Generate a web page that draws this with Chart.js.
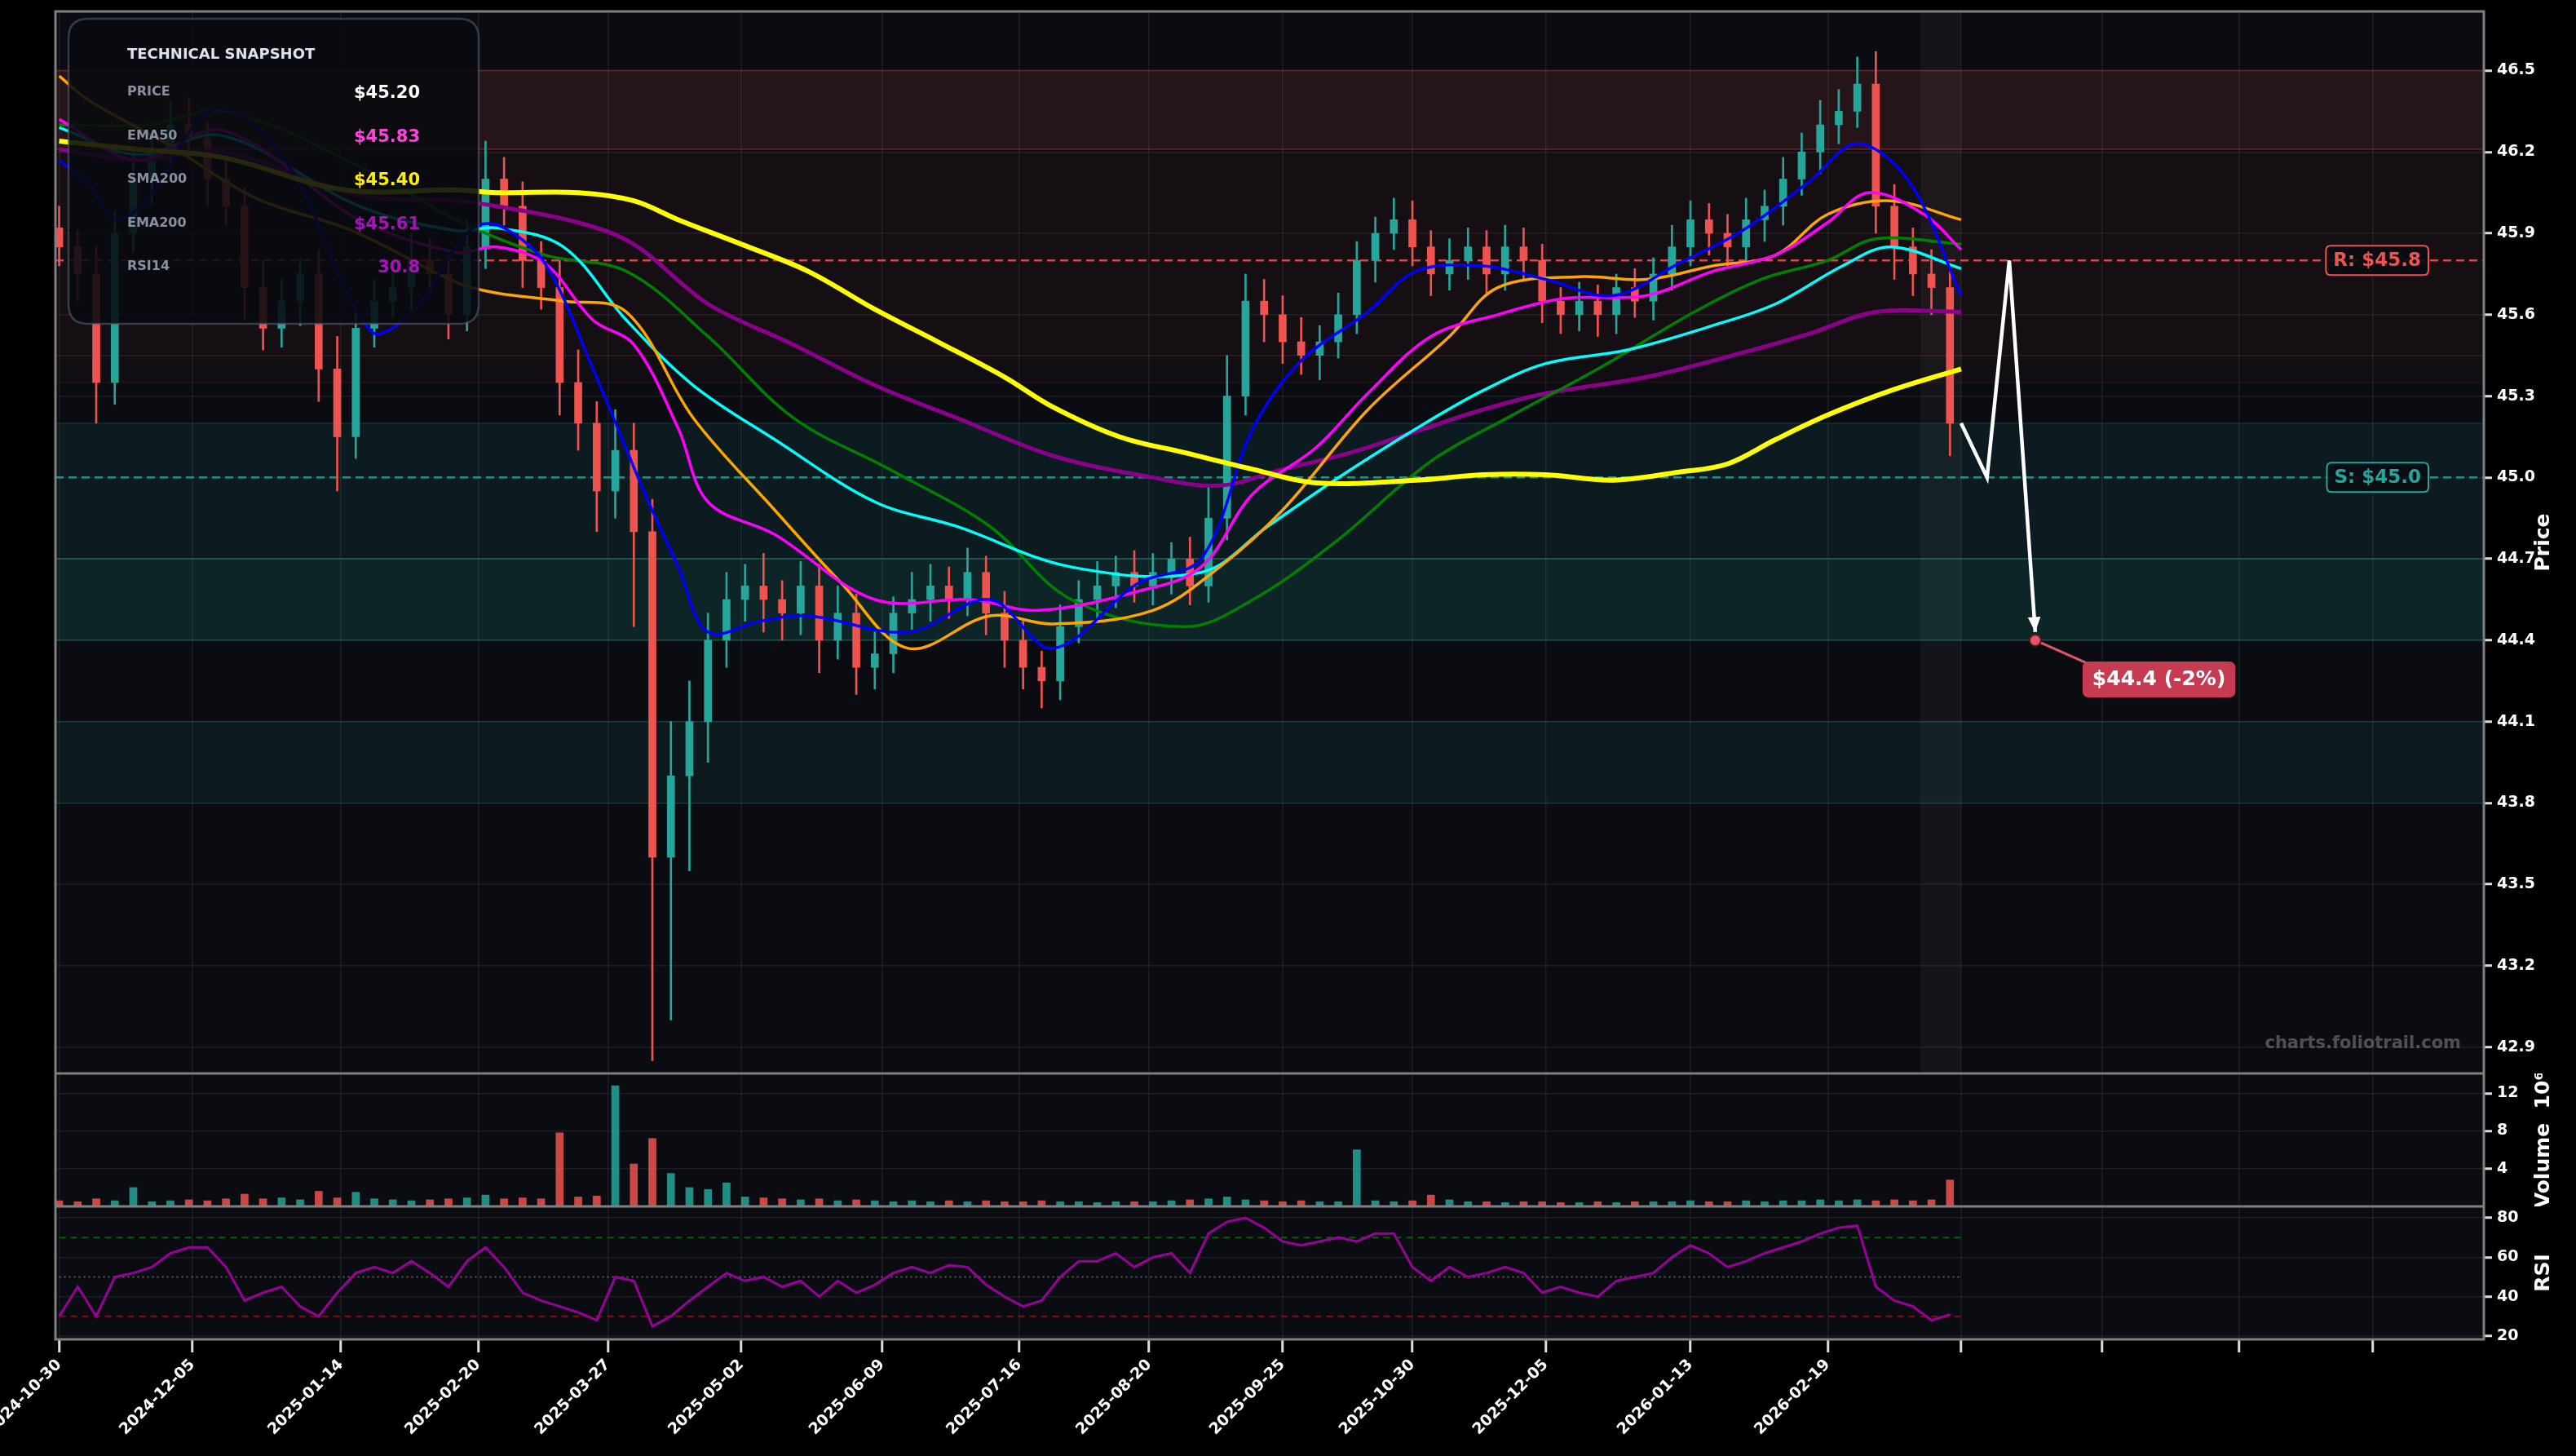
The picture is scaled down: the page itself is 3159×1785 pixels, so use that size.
<!DOCTYPE html>
<html><head><meta charset="utf-8">
<script src="https://cdn.jsdelivr.net/npm/chart.js@4.4.1/dist/chart.umd.min.js"></script>
<style>body{margin:0;background:#000;width:3159px;height:1785px;overflow:hidden;position:relative}canvas{position:absolute;left:0}</style>
</head><body>
<canvas id="cp" width="3159" height="1316" style="top:0"></canvas>
<canvas id="cv" width="3159" height="163" style="top:1316px"></canvas>
<canvas id="cr" width="3159" height="306" style="top:1479px"></canvas>
<script>
// ---------- DATA ----------
const tickDays   = [0,36,76,113,148,184,222,259,294,330,365,401,440,477,513,551,588,624];
const tickLabels = ['2024-10-30','2024-12-05','2025-01-14','2025-02-20','2025-03-27','2025-05-02','2025-06-09','2025-07-16','2025-08-20','2025-09-25','2025-10-30','2025-12-05','2026-01-13','2026-02-19'];
const closes = [45.85,45.75,45.35,45.9,46.1,46.2,46.3,46.25,46.1,46.0,
 45.7,45.55,45.65,45.75,45.4,45.15,45.55,45.65,45.7,45.8,
 45.75,45.6,45.85,46.1,46.0,45.8,45.7,45.35,45.2,44.95,
 45.1,44.8,43.6,43.9,44.1,44.4,44.55,44.6,44.55,44.5,
 44.6,44.4,44.5,44.3,44.35,44.5,44.55,44.6,44.55,44.65,
 44.5,44.4,44.3,44.25,44.45,44.55,44.6,44.65,44.6,44.65,
 44.7,44.6,44.85,45.3,45.65,45.6,45.5,45.45,45.5,45.6,
 45.8,45.9,45.95,45.85,45.75,45.8,45.85,45.75,45.85,45.8,
 45.65,45.6,45.65,45.6,45.7,45.65,45.75,45.85,45.95,45.9,
 45.85,45.95,46.0,46.1,46.2,46.3,46.35,46.45,46.0,45.85,
 45.75,45.7,45.2];
const firstOpen = 45.92;
const wickUp = [0.08,0.06,0.1,0.08,0.12,0.07,0.09,0.1,0.06,0.08,
 0.07,0.1,0.08,0.06,0.09,0.12,0.07,0.08,0.06,0.1,
 0.08,0.07,0.1,0.14,0.08,0.09,0.07,0.1,0.12,0.08,
 0.15,0.1,0.12,0.2,0.15,0.1,0.1,0.08,0.12,0.07,
 0.09,0.08,0.1,0.07,0.08,0.06,0.1,0.08,0.07,0.09,
 0.06,0.08,0.07,0.06,0.08,0.07,0.09,0.06,0.08,0.07,
 0.06,0.08,0.12,0.15,0.1,0.08,0.07,0.09,0.06,0.08,
 0.07,0.06,0.08,0.07,0.06,0.08,0.07,0.06,0.08,0.07,
 0.06,0.05,0.07,0.06,0.05,0.07,0.06,0.08,0.07,0.06,
 0.07,0.08,0.06,0.08,0.07,0.09,0.08,0.1,0.12,0.08,
 0.07,0.09,0.06];
const wickDn = [0.07,0.1,0.15,0.08,0.07,0.09,0.06,0.08,0.1,0.07,
 0.12,0.08,0.07,0.09,0.12,0.2,0.08,0.07,0.06,0.08,
 0.07,0.09,0.06,0.08,0.07,0.1,0.08,0.12,0.1,0.15,
 0.1,0.35,0.75,0.6,0.35,0.15,0.1,0.08,0.12,0.1,
 0.08,0.12,0.07,0.1,0.08,0.07,0.06,0.08,0.07,0.06,
 0.08,0.1,0.08,0.1,0.07,0.06,0.07,0.08,0.06,0.07,
 0.08,0.07,0.06,0.08,0.07,0.1,0.08,0.07,0.09,0.06,
 0.07,0.08,0.06,0.07,0.08,0.06,0.07,0.08,0.06,0.07,
 0.08,0.07,0.06,0.08,0.07,0.06,0.07,0.06,0.07,0.08,
 0.07,0.06,0.08,0.07,0.06,0.08,0.07,0.06,0.1,0.12,
 0.08,0.1,0.12];
const volumes = [0.6,0.5,0.8,0.6,2.0,0.5,0.6,0.7,0.6,0.8,
 1.3,0.8,0.9,0.7,1.6,0.9,1.5,0.8,0.7,0.6,
 0.7,0.8,0.9,1.2,0.8,0.9,0.8,7.8,1.0,1.1,
 12.8,4.5,7.2,3.5,2.0,1.8,2.5,1.0,0.9,0.8,
 0.7,0.8,0.6,0.7,0.6,0.5,0.6,0.5,0.6,0.5,
 0.6,0.5,0.5,0.6,0.5,0.5,0.4,0.5,0.5,0.5,
 0.6,0.7,0.8,1.0,0.7,0.6,0.5,0.6,0.5,0.5,
 6.0,0.6,0.5,0.6,1.2,0.7,0.5,0.5,0.4,0.5,
 0.5,0.4,0.4,0.5,0.4,0.5,0.5,0.5,0.6,0.5,
 0.5,0.6,0.5,0.6,0.6,0.7,0.6,0.7,0.6,0.7,
 0.6,0.7,2.8];
const rsiValues = [30,45,30,50,52,55,62,65,65,55,
 38,42,45,35,30,42,52,55,52,58,
 52,45,58,65,55,42,38,35,32,28,
 50,48,25,30,38,45,52,48,50,45,
 48,40,48,42,46,52,55,52,56,55,
 46,40,35,38,50,58,58,62,55,60,
 62,52,72,78,80,75,68,66,68,70,
 68,72,72,55,48,55,50,52,55,52,
 42,45,42,40,48,50,52,60,66,62,
 55,58,62,65,68,72,75,76,45,38,
 35,28,31];
const candleDays = closes.map((_,i)=>i*5);

const sma200Days=[0,21,44,77,107,118,140,155,167,184,202,220,237,255,268,286,304,322,339,366,384,401,419,437,450,463,477,494,513];
const sma200Vals=[46.24,46.21,46.18,46.06,46.06,46.05,46.05,46.02,45.95,45.86,45.76,45.62,45.50,45.37,45.26,45.15,45.09,45.03,44.98,44.99,45.01,45.01,44.99,45.02,45.05,45.14,45.23,45.32,45.40];
const ema200Days=[0,21,44,81,107,118,140,155,175,198,220,242,268,295,313,330,348,366,384,401,428,454,472,490,513];
const ema200Vals=[46.21,46.17,46.20,46.04,46.02,46.0,45.94,45.86,45.64,45.49,45.34,45.22,45.08,45.0,44.97,45.03,45.09,45.17,45.25,45.31,45.37,45.46,45.53,45.61,45.61];
const ema50Days=[0,21,44,81,107,118,131,144,155,167,175,193,220,246,264,291,308,322,339,353,370,388,406,428,446,463,477,488,503,513];
const ema50Vals=[46.32,46.17,46.28,45.95,45.83,45.85,45.79,45.58,45.49,45.18,44.91,44.79,44.55,44.55,44.51,44.58,44.67,44.94,45.11,45.31,45.52,45.60,45.66,45.67,45.76,45.82,45.94,46.05,45.97,45.84];
const cyanDays=[0,21,44,81,107,118,136,153,171,193,220,242,273,308,326,344,366,384,401,423,446,463,481,494,513];
const cyanVals=[46.29,46.19,46.26,46.0,45.91,45.92,45.85,45.58,45.34,45.14,44.91,44.82,44.67,44.65,44.82,44.99,45.18,45.32,45.42,45.47,45.56,45.64,45.78,45.85,45.77];
const greenDays=[0,24,45,85,107,131,153,175,198,224,251,273,304,322,344,370,392,415,441,459,477,490,513];
const greenVals=[46.30,46.30,46.35,46.12,45.95,45.82,45.76,45.52,45.22,45.03,44.82,44.55,44.45,44.55,44.76,45.06,45.23,45.40,45.61,45.73,45.80,45.88,45.86];
const orangeDays=[0,8,29,53,79,107,118,136,153,171,193,211,229,251,268,295,313,330,353,375,388,410,428,446,463,477,494,513];
const orangeVals=[46.48,46.39,46.23,46.03,45.91,45.72,45.68,45.65,45.61,45.22,44.88,44.61,44.37,44.49,44.46,44.51,44.67,44.88,45.25,45.52,45.70,45.74,45.73,45.78,45.82,45.97,46.02,45.95];
const blueDays=[0,8,15.5,24,42,61,84,96,107,113,120,131,144,158,167,175,189,202,229,251,268,291,308,322,335,353,366,384,401,419,437,454,472,485,499,513];
const blueVals=[46.17,46.08,45.95,46.03,46.36,46.17,45.54,45.62,45.85,45.93,45.92,45.79,45.40,44.94,44.67,44.43,44.47,44.49,44.43,44.55,44.37,44.61,44.70,45.18,45.43,45.61,45.76,45.78,45.73,45.67,45.79,45.91,46.09,46.23,46.09,45.67];
const forecastDays=[513,520,526,533];
const forecastVals=[45.20,45.00,45.80,44.43];
const targetDay=533, targetPrice=44.40, targetText='$44.4 (-2%)';
const resistance=45.8, support=45.0;
const zoneLevels=[[46.21,46.5,'r1'],[45.45,46.21,'r2'],[45.35,45.45,'r3'],[44.7,45.2,'g1'],[44.4,44.7,'g2'],[43.8,44.1,'g3']];
const recentRange=[502,513];
const priceTicks=[42.9,43.2,43.5,43.8,44.1,44.4,44.7,45.0,45.3,45.6,45.9,46.2,46.5];
const volTicks=[4,8,12];
const rsiTicks=[20,40,60,80];
const rsiLevels=[70,50,30];
const snapLabels=['PRICE','EMA50','SMA200','EMA200','RSI14'];
const snapValues=['$45.20','$45.83','$45.40','$45.61','30.8'];

// ---------- STYLE ----------
const FONT='DejaVu Sans';
const PL=68, AXW=113, XMIN=-1, XMAX=654;
const UP='#26a69a', DN='#ef5350';
const zoneFill={r1:'rgba(239,83,80,0.12)',r2:'rgba(239,83,80,0.05)',r3:'rgba(239,83,80,0.03)',g1:'rgba(38,166,154,0.10)',g2:'rgba(38,166,154,0.16)',g3:'rgba(38,166,154,0.09)'};
const zoneStroke={r1:'rgba(239,83,80,0.25)',r2:'rgba(239,83,80,0.12)',r3:'rgba(239,83,80,0.1)',g1:'rgba(38,166,154,0.2)',g2:'rgba(38,166,154,0.3)',g3:'rgba(38,166,154,0.2)'};
const snapColors=['#ffffff','#ff44dd','#ffee00','#aa11bb','#aa11bb'];

const opens = closes.map((c,i)=> i===0 ? firstOpen : closes[i-1]);
const cColors = closes.map((c,i)=> c>=opens[i] ? UP : DN);

function xScale(show,h){
  return {type:'linear',min:XMIN,max:XMAX,offset:false,
    afterBuildTicks:s=>{s.ticks=tickDays.map(v=>({value:v}));},
    afterFit:s=>{s.height=h;s.paddingLeft=0;s.paddingRight=0;},
    grid:{offset:false,color:'rgba(255,255,255,0.07)',lineWidth:1.5,drawTicks:show,tickLength:16,tickColor:'#ddd',tickWidth:3},
    border:{display:false},
    ticks:{display:show,color:'#fff',font:{family:FONT,weight:'bold',size:19},maxRotation:45,minRotation:45,autoSkip:false,padding:4,
      callback:v=>{const i=tickDays.indexOf(v);return i>=0&&i<tickLabels.length?tickLabels[i]:'';}}};
}
function yScale(min,max,ticks,fmt){
  return {position:'right',min,max,
    afterBuildTicks:s=>{s.ticks=ticks.map(v=>({value:v}));},
    afterFit:s=>{s.width=AXW;s.paddingTop=0;s.paddingBottom=0;},
    grid:{color:'rgba(255,255,255,0.07)',lineWidth:1.5,tickLength:10,tickColor:'#ddd',tickWidth:3},
    border:{display:false},
    ticks:{color:'#fff',font:{family:FONT,weight:'bold',size:19},padding:6,callback:fmt}};
}
function framePlugin(title){
  return {id:'frame',
    beforeDraw(c){const {ctx,chartArea:a}=c;ctx.save();ctx.fillStyle='#0a0c11';ctx.fillRect(a.left,a.top,a.right-a.left,a.bottom-a.top);ctx.restore();},
    afterDraw(c){const {ctx,chartArea:a}=c;ctx.save();ctx.strokeStyle='#808080';ctx.lineWidth=3;ctx.strokeRect(a.left,a.top,a.right-a.left,a.bottom-a.top);
      ctx.translate(3119,(a.top+a.bottom)/2);ctx.rotate(-Math.PI/2);ctx.fillStyle='#fff';ctx.font='bold 25px '+FONT;ctx.textAlign='center';ctx.textBaseline='middle';ctx.fillText(title,0,0);ctx.restore();}};
}
function line(days,vals,color,w){return {type:'line',data:days.map((d,i)=>({x:d,y:vals[i]})),borderColor:color,borderWidth:w,pointRadius:0,tension:0.35,fill:false};}
function rrect(ctx,x,y,w,h,r){ctx.beginPath();ctx.moveTo(x+r,y);ctx.lineTo(x+w-r,y);ctx.quadraticCurveTo(x+w,y,x+w,y+r);ctx.lineTo(x+w,y+h-r);ctx.quadraticCurveTo(x+w,y+h,x+w-r,y+h);ctx.lineTo(x+r,y+h);ctx.quadraticCurveTo(x,y+h,x,y+h-r);ctx.lineTo(x,y+r);ctx.quadraticCurveTo(x,y,x+r,y);ctx.closePath();}

const overlay={id:'ov',
  beforeDatasetsDraw(c){const {ctx,chartArea:a,scales:{x,y}}=c;ctx.save();
    ctx.beginPath();ctx.rect(a.left,a.top,a.right-a.left,a.bottom-a.top);ctx.clip();
    zoneLevels.forEach(z=>{const t=y.getPixelForValue(z[1]),b=y.getPixelForValue(z[0]);ctx.fillStyle=zoneFill[z[2]];ctx.fillRect(a.left,t,a.right-a.left,b-t);ctx.strokeStyle=zoneStroke[z[2]];ctx.lineWidth=1.5;ctx.strokeRect(a.left,t,a.right-a.left,b-t);});
    const s0=x.getPixelForValue(recentRange[0]),s1=x.getPixelForValue(recentRange[1]);
    ctx.fillStyle='rgba(255,255,255,0.04)';ctx.fillRect(s0,a.top,s1-s0,a.bottom-a.top);
    ctx.setLineDash([10,6]);ctx.lineWidth=2.5;
    [[resistance,'rgba(239,83,80,0.85)'],[support,'rgba(38,166,154,0.85)']].forEach(([v,col])=>{const py=y.getPixelForValue(v);ctx.strokeStyle=col;ctx.beginPath();ctx.moveTo(a.left,py);ctx.lineTo(a.right,py);ctx.stroke();});
    ctx.restore();},
  afterDatasetsDraw(c){const {ctx,chartArea:a,scales:{x,y}}=c;ctx.save();
    const n=forecastDays.length;const x1=x.getPixelForValue(forecastDays[n-1]),y1=y.getPixelForValue(forecastVals[n-1]);
    const x0=x.getPixelForValue(forecastDays[n-2]),y0=y.getPixelForValue(forecastVals[n-2]);
    const ang=Math.atan2(y1-y0,x1-x0);ctx.fillStyle='#fff';ctx.beginPath();ctx.moveTo(x1,y1);
    ctx.lineTo(x1-20*Math.cos(ang-0.4),y1-20*Math.sin(ang-0.4));ctx.lineTo(x1-20*Math.cos(ang+0.4),y1-20*Math.sin(ang+0.4));ctx.closePath();ctx.fill();
    const tx=x.getPixelForValue(targetDay),ty=y.getPixelForValue(targetPrice);
    ctx.font='bold 25px '+FONT;const tw=ctx.measureText(targetText).width;
    const bx=tx+58,by=ty+26,bw=tw+24,bh=44;
    ctx.strokeStyle='#e0566a';ctx.lineWidth=3;ctx.beginPath();ctx.moveTo(tx,ty);ctx.lineTo(bx+14,by+6);ctx.stroke();
    ctx.fillStyle='#c63a52';rrect(ctx,bx,by,bw,bh,8);ctx.fill();
    ctx.fillStyle='#fff';ctx.textBaseline='middle';ctx.textAlign='left';ctx.fillText(targetText,bx+12,by+bh/2+1);
    ctx.beginPath();ctx.arc(tx,ty,7,0,Math.PI*2);ctx.fillStyle='#e0566a';ctx.fill();ctx.strokeStyle='#5a1520';ctx.lineWidth=2;ctx.stroke();
    ctx.font='bold 23px '+FONT;
    [['R: $'+resistance.toFixed(1),resistance,DN],['S: $'+support.toFixed(1),support,UP]].forEach(([t,v,col])=>{
      const w=ctx.measureText(t).width+18,h=36,rx=a.right-68-w,ry=y.getPixelForValue(v)-h/2;
      ctx.fillStyle='rgba(10,12,17,0.9)';rrect(ctx,rx,ry,w,h,6);ctx.fill();ctx.strokeStyle=col;ctx.lineWidth=2;ctx.stroke();
      ctx.fillStyle=col;ctx.textAlign='left';ctx.fillText(t,rx+9,ry+h/2+1);});
    ctx.font='bold 21px '+FONT;ctx.fillStyle='rgba(255,255,255,0.28)';ctx.textAlign='right';ctx.fillText('charts.foliotrail.com',a.right-28,1280);
    ctx.fillStyle='rgba(8,10,15,0.88)';rrect(ctx,84,23,503,374,24);ctx.fill();ctx.strokeStyle='rgba(90,100,120,0.55)';ctx.lineWidth=2.5;ctx.stroke();
    ctx.textAlign='left';ctx.fillStyle='#dde2ec';ctx.font='bold 18px '+FONT;ctx.fillText('TECHNICAL SNAPSHOT',156,67);
    snapLabels.forEach((l,i)=>{const yy=113+i*53.5;ctx.font='bold 16px '+FONT;ctx.fillStyle='#8a90a0';ctx.textAlign='left';ctx.fillText(l,156,yy);
      ctx.font='bold 21px '+FONT;ctx.fillStyle=snapColors[i];ctx.textAlign='right';ctx.fillText(snapValues[i],515,yy+2);});
    ctx.restore();}};

Chart.defaults.animation=false;
Chart.defaults.devicePixelRatio=1;
const common={responsive:false,animation:false,plugins:{legend:{display:false},tooltip:{enabled:false}}};

new Chart(document.getElementById('cp'),{type:'bar',
  data:{datasets:[
    {data:closes.map((c,i)=>({x:candleDays[i],y:[Math.min(opens[i],c)-wickDn[i],Math.max(opens[i],c)+wickUp[i]]})),backgroundColor:cColors,barThickness:2,grouped:false,order:10},
    {data:closes.map((c,i)=>({x:candleDays[i],y:[opens[i],c]})),backgroundColor:cColors,barThickness:9,grouped:false,order:9,minBarLength:2},
    Object.assign(line(ema200Days,ema200Vals,'#8b008b',5),{order:8}),
    Object.assign(line(greenDays,greenVals,'#008000',3.5),{order:7}),
    Object.assign(line(cyanDays,cyanVals,'#00ffff',3.5),{order:6}),
    Object.assign(line(orangeDays,orangeVals,'#ffa500',3.5),{order:5}),
    Object.assign(line(ema50Days,ema50Vals,'#ff00ff',3.5),{order:4}),
    Object.assign(line(blueDays,blueVals,'#0000ff',3.5),{order:3}),
    Object.assign(line(sma200Days,sma200Vals,'#ffff00',6),{order:2}),
    Object.assign(line(forecastDays,forecastVals,'#ffffff',4.5),{tension:0,order:1})
  ]},
  options:Object.assign({},common,{layout:{padding:{left:PL,top:14,right:0,bottom:0}},
    scales:{x:xScale(false,0),y:yScale(42.803,46.718,priceTicks,v=>v.toFixed(1))}}),
  plugins:[framePlugin('Price'),overlay]});

new Chart(document.getElementById('cv'),{type:'bar',
  data:{datasets:[{data:volumes.map((v,i)=>({x:candleDays[i],y:v})),backgroundColor:cColors.map(c=>c===UP?'rgba(38,166,154,0.85)':'rgba(239,83,80,0.85)'),barThickness:9}]},
  options:Object.assign({},common,{layout:{padding:{left:PL,top:0,right:0,bottom:0}},
    scales:{x:xScale(false,0),y:yScale(0,14.1,volTicks,v=>String(v))}}),
  plugins:[framePlugin('Volume  10\u2076')]});

const rsiRefPlugin={id:'rsiref',beforeDatasetsDraw(c){const {ctx,scales:{x,y}}=c;ctx.save();ctx.lineWidth=2;
  const styles=[['rgba(0,110,0,0.9)',[8,6]],['rgba(160,160,160,0.55)',[2,4]],['rgba(150,10,20,0.9)',[8,6]]];
  rsiLevels.forEach((lv,i)=>{ctx.strokeStyle=styles[i][0];ctx.setLineDash(styles[i][1]);const py=y.getPixelForValue(lv);ctx.beginPath();ctx.moveTo(x.getPixelForValue(0),py);ctx.lineTo(x.getPixelForValue(513),py);ctx.stroke();});ctx.restore();}};
new Chart(document.getElementById('cr'),{type:'line',
  data:{datasets:[{data:rsiValues.map((v,i)=>({x:candleDays[i],y:v})),borderColor:'#990099',borderWidth:3,pointRadius:0,tension:0}]},
  options:Object.assign({},common,{layout:{padding:{left:PL,top:0,right:0,bottom:0}},
    scales:{x:xScale(true,143),y:yScale(18.3,85.8,rsiTicks,v=>String(v))}}),
  plugins:[framePlugin('RSI'),rsiRefPlugin]});
</script>
</body></html>
